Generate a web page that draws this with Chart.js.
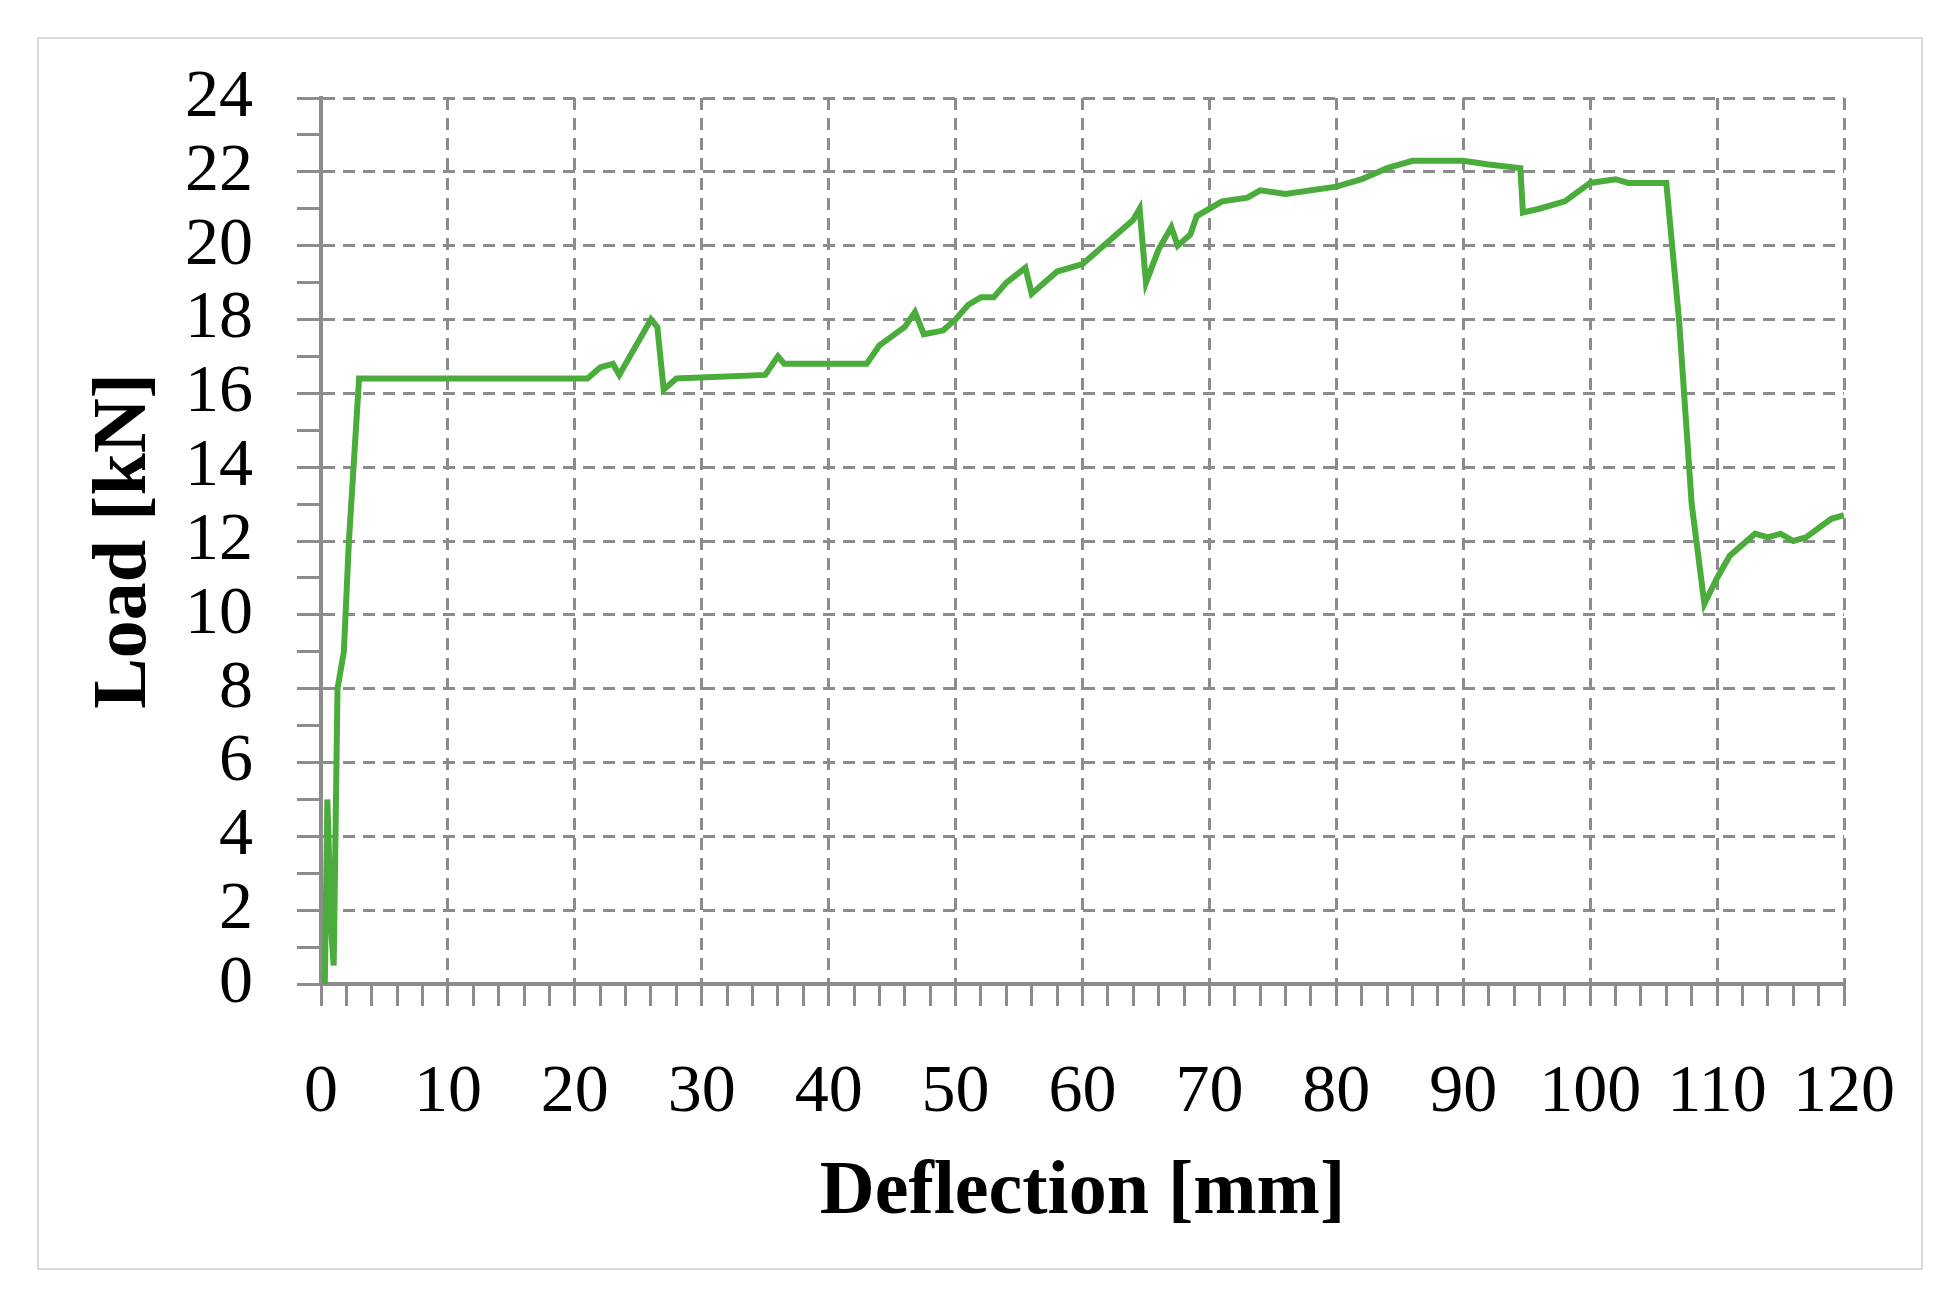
<!DOCTYPE html>
<html>
<head>
<meta charset="utf-8">
<script src="https://cdn.jsdelivr.net/npm/chart.js@4"></script>
<style>
  html, body { margin: 0; padding: 0; background: #fff; }
  #wrap { width: 1960px; height: 1301px; }
</style>
</head>
<body>
<div id="wrap"><canvas id="myChart" width="1960" height="1301"></canvas></div>
<script>
// Load vs deflection
var deflection = [0.3, 0.5, 0.8, 1.0, 1.3, 1.8, 2.2, 3, 21, 22, 23, 23.5, 26, 26.5, 27, 28, 35, 36, 36.5, 43,
  44, 46, 46.8, 47.5, 49, 50, 51, 52, 53, 54, 55.5, 56, 57, 58, 60, 62, 64, 64.5, 65, 66, 67, 67.5, 68.5, 69,
  71, 73, 74, 76, 80, 82, 84, 86, 88, 90, 92, 94.5, 94.7, 96, 98, 100, 102, 103, 105, 106, 107, 108, 109,
  110, 111, 113, 114, 115, 116, 117, 119, 120];
var load = [0, 5, 1.5, 0.5, 8, 9, 12, 16.4, 16.4, 16.7, 16.8, 16.5, 18, 17.8, 16.1, 16.4, 16.5, 17, 16.8, 16.8,
  17.3, 17.8, 18.2, 17.6, 17.7, 18, 18.4, 18.6, 18.6, 19, 19.4, 18.7, 19, 19.3, 19.5, 20.1, 20.7, 21, 19, 19.9, 20.5, 20, 20.3, 20.8,
  21.2, 21.3, 21.5, 21.4, 21.6, 21.8, 22.1, 22.3, 22.3, 22.3, 22.2, 22.1, 20.9, 21, 21.2, 21.7, 21.8, 21.7, 21.7, 21.7, 18, 13, 10.3,
  11, 11.6, 12.2, 12.1, 12.2, 12, 12.1, 12.6, 12.7];

var points = deflection.map(function (x, i) { return { x: x, y: load[i] }; });

var grey = "#8c8c8c";
var serif = "'Liberation Serif', 'DejaVu Serif', serif";

var framePlugin = {
  id: "frame",
  beforeDraw: function (chart) {
    var c = chart.ctx;
    c.save();
    c.fillStyle = "#fff";
    c.fillRect(0, 0, chart.width, chart.height);
    c.strokeStyle = "#d9d9d9";
    c.lineWidth = 2;
    c.strokeRect(38, 38, 1884, 1231);
    c.restore();
  }
};

var ctx = document.getElementById("myChart");
var myChart = new Chart(ctx, {
  type: "scatter",
  data: {
    datasets: [{
      data: points,
      showLine: true,
      borderColor: "#4aac3a",
      borderWidth: 6,
      pointRadius: 0,
      fill: false
    }]
  },
  options: {
    responsive: false,
    animation: false,
    layout: { padding: { top: 98, right: 116, left: 0, bottom: 0 } },
    plugins: { legend: { display: false }, tooltip: { enabled: false } },
    scales: {
      x: {
        min: 0, max: 120,
        afterFit: function (s) { s.height = 317; },
        border: { color: grey, width: 4, dash: [12, 8] },
        grid: {
          color: function (c) { return c.tick && c.tick.value % 10 === 0 && c.tick.value !== 0 ? grey : "transparent"; },
          lineWidth: 3,
          tickColor: grey,
          tickWidth: 3,
          tickBorderDash: [],
          tickLength: 22
        },
        ticks: {
          stepSize: 2,
          autoSkip: false,
          maxRotation: 0,
          padding: 46,
          color: "#000",
          font: { family: serif, size: 68 },
          callback: function (v) { return v % 10 === 0 ? v : ""; }
        },
        title: {
          display: true,
          text: "Deflection [mm]",
          color: "#000",
          font: { family: serif, size: 76, weight: "bold" },
          padding: { top: 0, bottom: 62 }
        }
      },
      y: {
        min: 0, max: 24,
        afterFit: function (s) { s.width = 321; },
        border: { color: grey, width: 4, dash: [12, 8] },
        grid: {
          color: function (c) { return c.tick && c.tick.value % 2 === 0 && c.tick.value !== 0 ? grey : "transparent"; },
          lineWidth: 3,
          tickColor: grey,
          tickWidth: 3,
          tickBorderDash: [],
          tickLength: 24
        },
        ticks: {
          stepSize: 1,
          autoSkip: false,
          padding: 44,
          color: "#000",
          font: { family: serif, size: 68 },
          callback: function (v) { return v % 2 === 0 ? v : ""; }
        },
        title: {
          display: true,
          text: "Load [kN]",
          color: "#000",
          font: { family: serif, size: 76, weight: "bold" },
          padding: { top: 80, bottom: 80 }
        }
      }
    }
  },
  plugins: [framePlugin]
});
</script>
</body>
</html>
